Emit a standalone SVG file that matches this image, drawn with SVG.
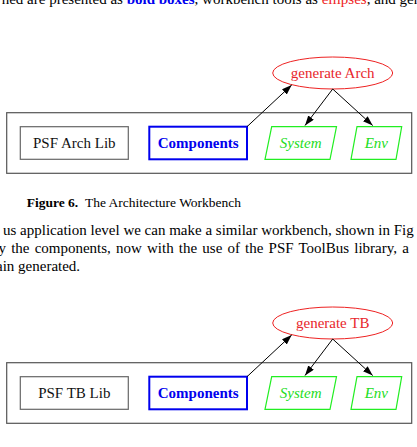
<svg xmlns="http://www.w3.org/2000/svg" width="417" height="447" viewBox="0 0 417 447">
<defs>
<style>
text{font-family:"Liberation Serif","Times New Roman",serif;font-size:15px;}
.bg{fill:#fff;}
.outer{fill:none;stroke:#555;stroke-width:1.2;}
.lib{fill:#fff;stroke:#666;stroke-width:1.2;}
.comp{fill:#fff;stroke:#0000ee;stroke-width:2;}
.gen{fill:#fff;stroke:#ee2222;stroke-width:1;}
.grn{fill:#fff;stroke:#22ee22;stroke-width:1.2;}
.tlib{fill:#111;text-anchor:middle;}
.tcomp{fill:#0000ee;font-weight:bold;text-anchor:middle;}
.tgen{fill:#e8262c;text-anchor:middle;}
.tgrn{fill:#22dd22;font-style:italic;text-anchor:middle;}
.edge{stroke:#000;stroke-width:1;fill:none;}
.body{fill:#000;}
</style>
<marker id="ah" markerUnits="userSpaceOnUse" markerWidth="11" markerHeight="8" refX="10" refY="3.5" orient="auto">
<path d="M0,0 L10,3.5 L0,7 z" fill="#000"/>
</marker>
</defs>
<rect width="417" height="447" fill="#fff"/>

<g id="text-top">
<text x="1.7" y="3.5" class="body">ned are presented as <tspan fill="#0000ee" font-weight="bold">bold boxes</tspan>, workbench tools as <tspan fill="#ee2222">ellipses</tspan>, and gen</text>
</g>

<g id="diagram1">
<rect class="outer" x="6.7" y="112.7" width="405" height="60.6"/>
<g id="d1-lib"><rect class="lib" x="20.3" y="126.7" width="108" height="32.6"/><text class="tlib" x="74.3" y="147.5">PSF Arch Lib</text></g>
<g id="d1-components"><rect class="comp" x="149.3" y="126.7" width="97.7" height="32.6"/><text class="tcomp" x="198.2" y="147.5">Components</text></g>
<g id="d1-system"><polygon class="grn" points="271.7,126.7 336.5,126.7 330,159.3 265,159.3"/><text class="tgrn" x="300.7" y="147.5">System</text></g>
<g id="d1-env"><polygon class="grn" points="357,126.7 401.7,126.7 396,159.3 351,159.3"/><text class="tgrn" x="376.3" y="147.5">Env</text></g>
<g id="d1-generate"><ellipse class="gen" cx="332.7" cy="73" rx="60" ry="16"/><text class="tgen" x="332.7" y="78">generate Arch</text></g>
<g id="d1-edges">
<line class="edge" x1="247" y1="126.7" x2="291.7" y2="85" marker-end="url(#ah)"/>
<line class="edge" x1="332.7" y1="89" x2="305" y2="125.5" marker-end="url(#ah)"/>
<line class="edge" x1="332.7" y1="89" x2="372.7" y2="125.5" marker-end="url(#ah)"/>
</g>
</g>

<g id="caption">
<text x="26.7" y="207" style="font-size:13.5px" class="body"><tspan font-weight="bold">Figure 6.</tspan><tspan x="85">The Architecture Workbench</tspan></text>
</g>

<g id="paragraph" class="body">
<text x="3" y="235" class="body">us application level we can make a similar workbench, shown in Fig</text>
<text x="-1.5" y="253" class="body" word-spacing="1.4">y the components, now with the use of the PSF ToolBus library, a</text>
<text x="-4" y="271" class="body">ain generated.</text>
</g>

<g id="diagram2" transform="translate(0,250)">
<rect class="outer" x="6.7" y="112.7" width="405" height="60.6"/>
<g id="d2-lib"><rect class="lib" x="20.3" y="126.7" width="108" height="32.6"/><text class="tlib" x="74.3" y="147.5">PSF TB Lib</text></g>
<g id="d2-components"><rect class="comp" x="149.3" y="126.7" width="97.7" height="32.6"/><text class="tcomp" x="198.2" y="147.5">Components</text></g>
<g id="d2-system"><polygon class="grn" points="271.7,126.7 336.5,126.7 330,159.3 265,159.3"/><text class="tgrn" x="300.7" y="147.5">System</text></g>
<g id="d2-env"><polygon class="grn" points="357,126.7 401.7,126.7 396,159.3 351,159.3"/><text class="tgrn" x="376.3" y="147.5">Env</text></g>
<g id="d2-generate"><ellipse class="gen" cx="332.7" cy="73" rx="60" ry="16"/><text class="tgen" x="332.7" y="78">generate TB</text></g>
<g id="d2-edges">
<line class="edge" x1="247" y1="126.7" x2="291.7" y2="85" marker-end="url(#ah)"/>
<line class="edge" x1="332.7" y1="89" x2="305" y2="125.5" marker-end="url(#ah)"/>
<line class="edge" x1="332.7" y1="89" x2="372.7" y2="125.5" marker-end="url(#ah)"/>
</g>
</g>
</svg>
